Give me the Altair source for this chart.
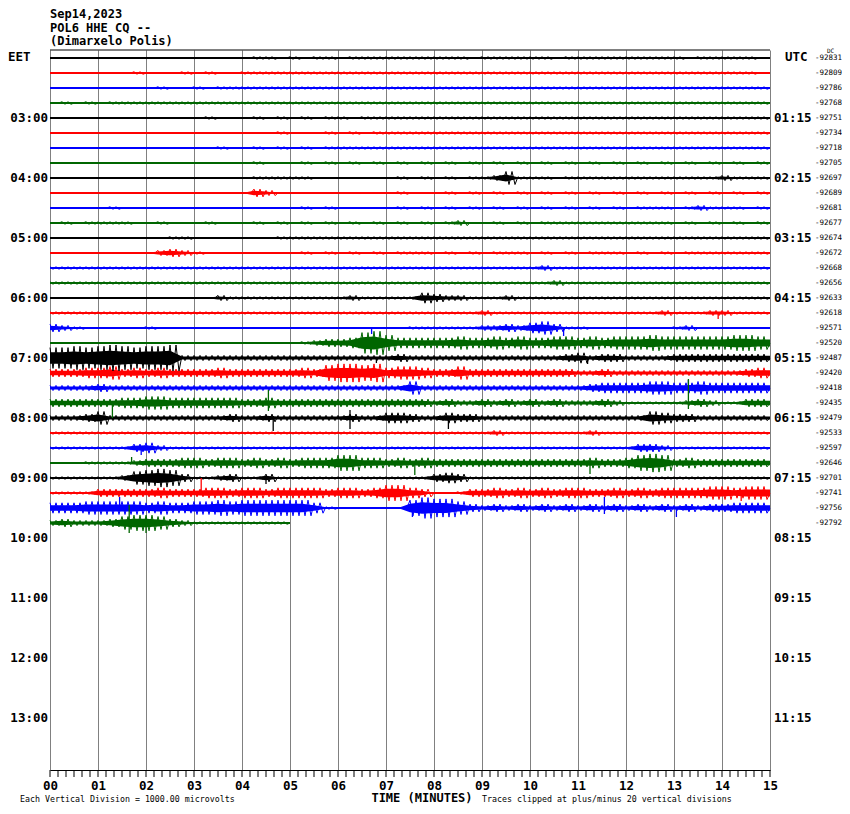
import altair as alt
import pandas as pd

# ---------------- data ----------------
COLORS = ["#000000", "#ff0000", "#0000ff", "#006600"]

DATE = "Sep14,2023"
STATION = "POL6 HHE CQ --"
PLACE = "(Dimarxelo Polis)"

LEFT_LABELS = ["EET", "03:00", "04:00", "05:00", "06:00", "07:00", "08:00",
               "09:00", "10:00", "11:00", "12:00", "13:00"]
RIGHT_LABELS = ["UTC", "01:15", "02:15", "03:15", "04:15", "05:15", "06:15",
                "07:15", "08:15", "09:15", "10:15", "11:15"]
DC_VALUES = [-92831, -92809, -92786, -92768, -92751, -92734, -92718, -92705,
             -92697, -92689, -92681, -92677, -92674, -92672, -92668, -92656,
             -92633, -92618, -92571, -92520, -92487, -92420, -92418, -92435,
             -92479, -92533, -92597, -92646, -92701, -92741, -92756, -92792]

MINUTE_LABELS = list(range(16))

# trace envelope (half amplitude, hex digit) every 0.25 minute
AMP = [
    "0000 0000 0000 0000 0110 1011 0111 1111 1110 1111 1101 1111 1111 1011 1110",
    "0000 0001 0001 0100 1111 1111 1111 1111 1111 1111 1111 1111 1111 1111 1110",
    "0000 0000 0100 1011 1111 1111 1111 1111 1111 1111 1111 1111 1111 1111 1111",
    "0101 0111 1111 1111 1111 1111 1111 1111 1111 1111 1111 1111 1111 1111 1111",
    "0000 0000 0000 0100 0101 0101 1011 1111 1111 1111 1111 1111 1111 1111 1111",
    "0000 0000 0000 0000 0001 0001 0101 1111 1111 1111 1111 1111 1111 1111 1111",
    "0000 0000 0000 0010 0101 0101 1111 1111 1111 1111 1111 1111 1111 1111 1111",
    "0000 0000 0000 0000 0100 0101 0101 0101 0101 0101 0101 0101 0101 0101 0101",
    "0000 0000 0000 0000 0111 1100 0000 0101 0101 1251 1101 1111 1111 1111 2111",
    "0000 0000 0000 0000 0320 0000 0000 0100 0101 0101 0101 0101 0101 0101 0101",
    "0000 0100 0000 0000 0000 0101 0000 0101 0101 0101 0101 0101 0111 0121 1101",
    "0101 1110 0100 0100 0101 0101 0101 0101 0120 0101 0111 1111 1111 0101 0101",
    "0000 0000 0011 0000 0001 1111 1111 1111 1111 1111 1111 1111 1111 1111 1111",
    "0000 0000 0232 1000 0000 0101 0101 0111 0101 0111 0101 0111 0101 0111 1111",
    "1111 1111 1111 1111 1111 1111 1111 1111 1111 1111 1211 1111 1111 1111 1111",
    "1111 1111 1111 1111 1111 1111 1111 1111 1111 1111 1121 1111 1111 1111 1111",
    "0000 0000 0000 0021 1111 1111 1211 1114 3221 1121 1111 1111 1111 1111 1111",
    "1111 1111 1111 1111 1111 1111 1111 1111 1111 2111 1111 1111 1112 1112 2111",
    "3210 0000 1000 0000 0000 0000 0000 0011 1111 2232 4531 1000 0000 1200 0000",
    "0000 0000 0000 0000 0000 0123 3489 6444 4454 4545 4455 4545 5565 5555 5665",
    "8898 9a98 99a2 2222 2222 2222 2222 2322 2222 2222 2223 4233 2222 3333 3333",
    "3334 4534 3433 3343 3333 3436 7767 4554 3353 3333 3333 2232 2222 2222 2234",
    "2222 3222 2222 2222 2222 2222 2222 2252 2222 2222 2222 2344 4455 4454 4444",
    "3333 3344 5544 4444 3343 3333 3333 3333 2322 3232 3232 2232 1111 1232 1133",
    "2223 5222 2222 2223 2232 2222 2322 4432 2433 2222 2222 2222 2254 3322 2222",
    "1111 1111 1111 1111 1111 1111 1111 1111 1111 1211 1111 1211 1111 1111 1111",
    "1111 1113 4211 1111 1111 1111 1111 1111 1111 1111 1111 1111 1332 1111 1111",
    "0001 1112 3334 4344 3434 3444 6644 3434 3333 3333 3333 3433 4676 3433 3333",
    "1111 1125 6763 1123 1131 1111 1111 1111 3431 1111 1111 1111 1111 1111 1111",
    "1111 3333 3433 3443 4434 4443 4434 6643 0013 3434 3434 4334 3434 4445 5455",
    "4445 5555 4544 5565 6666 6641 0000 0068 7753 2323 2323 2323 2323 2323 3444",
    "2322 2356 6532 1111 1111",
]

# isolated spikes: (trace, minute, pixels up, pixels down)
SPIKES = [
    (17, 13.92, 1, 6), (18, 6.7, 1, 6), (18, 10.7, 1, 8), (20, 6.8, 1, 5),
    (20, 11.2, 1, 6), (22, 13.3, 8, 2), (23, 1.3, 2, 15), (23, 4.55, 13, 8),
    (23, 13.3, 24, 6), (24, 4.65, 2, 13), (24, 6.25, 8, 11), (24, 8.3, 2, 11),
    (26, 1.9, 1, 7), (27, 1.7, 6, 1), (27, 7.6, 1, 12), (27, 11.25, 1, 11),
    (28, 4.5, 2, 6), (29, 3.15, 15, 1), (29, 14.4, 1, 8), (30, 1.45, 11, 1),
    (30, 7.55, 1, 9), (30, 11.55, 11, 6), (30, 13.05, 1, 9), (31, 1.65, 18, 10),
    (31, 2.0, 6, 10),
]

STEP = 0.25
SUB = 4            # zig-zag strokes drawn per envelope sample
ROW_PX = 15.0
GAIN = 1.3         # pixels per envelope digit
MONO = "DejaVu Sans Mono"

# ---------------- tables ----------------
band_rows, wig_rows, base_rows = [], [], []
for k, s in enumerate(AMP):
    vals = [int(c, 16) * GAIN for c in s.replace(" ", "")]
    col = COLORS[k % 4]
    for i, a in enumerate(vals + [vals[-1]]):
        band_rows.append({"trace": k, "m": i * STEP, "y": k - 0.55 * a / ROW_PX,
                          "y2": k + 0.55 * a / ROW_PX, "col": col})
    for i, a in enumerate(vals):
        for j in range(SUB):
            sign = -1 if j % 2 == 0 else 1
            wig_rows.append({"trace": k, "m": i * STEP + j * STEP / SUB,
                             "y": k + sign * a / ROW_PX, "col": col})
    wig_rows.append({"trace": k, "m": len(vals) * STEP, "y": k, "col": col})
    base_rows.append({"trace": k, "m": 0.0, "m2": len(vals) * STEP, "y": k, "col": col})
band_df = pd.DataFrame(band_rows)
wig_df = pd.DataFrame(wig_rows)
base_df = pd.DataFrame(base_rows)
spike_df = pd.DataFrame([{"m": m, "y": k - u / ROW_PX, "y2": k + d / ROW_PX,
                          "col": COLORS[k % 4]} for k, m, u, d in SPIKES])
tick_df = pd.DataFrame({"m": [i / 6 for i in range(15 * 6 + 1)]})
left_df = pd.DataFrame({"y": [4 * i for i in range(1, len(LEFT_LABELS))],
                        "t": LEFT_LABELS[1:]})
right_df = pd.DataFrame({"y": [4 * i for i in range(1, len(RIGHT_LABELS))],
                         "t": RIGHT_LABELS[1:]})
dc_df = pd.DataFrame({"y": list(range(len(DC_VALUES))),
                      "t": [str(v) for v in DC_VALUES]})
one = pd.DataFrame({"a": [0]})

yscale = alt.Scale(domain=[-8 / ROW_PX, 47 + 7 / ROW_PX], reverse=True, nice=False, zero=False)
X = alt.X("m:Q", scale=alt.Scale(domain=[0, 15], nice=False, zero=False),
          axis=alt.Axis(values=MINUTE_LABELS, grid=True, gridColor="#808080",
                        gridOpacity=1, gridWidth=1, ticks=False, tickSize=0,
                        domainColor="#000000", domainWidth=1, title=None,
                        labelExpr="(datum.value < 10 ? '0' : '') + datum.value",
                        labelFont=MONO, labelFontWeight="bold", labelFontSize=12.5,
                        labelColor="#000000", labelPadding=9, labelFlush=False))
Y = alt.Y("y:Q", scale=yscale, axis=None)
C = alt.Color("col:N", scale=None)

band = alt.Chart(band_df).mark_area(interpolate="linear").encode(
    x=X, y=Y, y2="y2:Q", color=C, detail="trace:N")
wig = alt.Chart(wig_df).mark_line(strokeWidth=1, interpolate="linear").encode(
    x=X, y=Y, color=C, detail="trace:N", order="m:Q")
base = alt.Chart(base_df).mark_rule(strokeWidth=2).encode(
    x=X, x2="m2:Q", y=Y, color=C)
spikes = alt.Chart(spike_df).mark_rule(strokeWidth=1.3).encode(
    x=X, y=Y, y2="y2:Q", color=C)
ticks = alt.Chart(tick_df).mark_rule(color="#000000", strokeWidth=1).encode(
    x=X, y=alt.value(720), y2=alt.value(727))
top = alt.Chart(one).mark_rule(color="#000000", strokeWidth=1).encode(
    x=alt.value(0), x2=alt.value(720), y=alt.value(0))

lbl = dict(font=MONO, fontWeight="bold", fontSize=12.5, baseline="middle", color="#000000")
left_txt = alt.Chart(left_df).mark_text(align="right", **lbl).encode(
    y=Y, x=alt.value(-2), text="t:N")
right_txt = alt.Chart(right_df).mark_text(align="left", **lbl).encode(
    y=Y, x=alt.value(724), text="t:N")
eet = alt.Chart(one).mark_text(align="left", text=LEFT_LABELS[0], **lbl).encode(
    x=alt.value(-42), y=alt.value(7))
utc = alt.Chart(one).mark_text(align="left", text=RIGHT_LABELS[0], **lbl).encode(
    x=alt.value(735), y=alt.value(7))
dc_txt = alt.Chart(dc_df).mark_text(align="left", baseline="middle", font=MONO,
                                    fontSize=7.5, color="#000000").encode(
    y=Y, x=alt.value(765), text="t:N")
dc_head = alt.Chart(one).mark_text(align="left", baseline="middle", font=MONO,
                                   fontSize=6, text="DC", color="#000000").encode(
    x=alt.value(777), y=alt.value(1))

hdr = dict(font=MONO, fontWeight="bold", fontSize=12, align="left",
           baseline="alphabetic", color="#000000")
h1 = alt.Chart(one).mark_text(text=DATE, **hdr).encode(x=alt.value(0), y=alt.value(-32))
h2 = alt.Chart(one).mark_text(text=STATION, **hdr).encode(x=alt.value(0), y=alt.value(-18))
h3 = alt.Chart(one).mark_text(text=PLACE, **hdr).encode(x=alt.value(0), y=alt.value(-5))

xtitle = alt.Chart(one).mark_text(text="TIME (MINUTES)", font=MONO, fontWeight="bold",
                                  fontSize=12, align="center", baseline="alphabetic",
                                  color="#000000").encode(x=alt.value(372), y=alt.value(752))
small = dict(font=MONO, fontSize=8.3, align="left", baseline="alphabetic", color="#000000")
note1 = alt.Chart(one).mark_text(text="Each Vertical Division = 1000.00 microvolts",
                                 **small).encode(x=alt.value(-30), y=alt.value(752))
note2 = alt.Chart(one).mark_text(text="Traces clipped at plus/minus 20 vertical divisions",
                                 **small).encode(x=alt.value(432), y=alt.value(752))

chart = alt.layer(
    band, wig, base, spikes, ticks, top, left_txt, right_txt, eet, utc, dc_txt, dc_head,
    h1, h2, h3, xtitle, note1, note2
).properties(
    width=720, height=720,
    autosize=alt.AutoSizeParams(type="none"),
    padding={"left": 42, "top": 42, "right": 72, "bottom": 34},
    background="#ffffff",
).configure_view(stroke="transparent")

chart.save("out.html", embed_options={"renderer": "svg", "actions": False})
